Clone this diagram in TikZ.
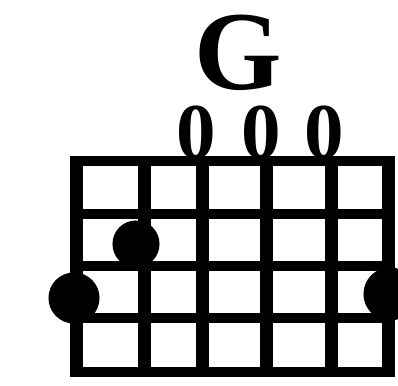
\documentclass[tikz,border=0pt]{standalone}
\usepackage{fontspec}
\setmainfont{Liberation Serif}
\usepackage{tikz}
\tikzset{
  chstring/.style={line width=0.26cm, draw=black, line cap=butt},
  chfret/.style={line width=0.20cm, draw=black, line cap=rect},
  chdot/.style={fill=black, draw=black, line width=0.6pt},
  chopen/.style={inner sep=0pt, anchor=base, font=\fontsize{45}{45}\selectfont\bfseries},
  chname/.style={inner sep=0pt, anchor=base, font=\fontsize{64}{64}\selectfont\bfseries},
}

\begin{document}
\begin{tikzpicture}
\useasboundingbox (0,0) rectangle (7.960,7.700);
\clip (0,0) rectangle (7.960,7.700);
\node[chname] (name) at (4.760,5.900) {G};
\draw[chfret] (1.540,4.480) -- (7.760,4.480);
\draw[chfret] (1.540,3.420) -- (7.760,3.420);
\draw[chfret] (1.540,2.380) -- (7.760,2.380);
\draw[chfret] (1.540,1.340) -- (7.760,1.340);
\draw[chfret] (1.540,0.260) -- (7.760,0.260);
\draw[chstring] (1.540,4.580) -- (1.540,0.160);
\draw[chstring] (2.880,4.580) -- (2.880,0.160);
\draw[chstring] (4.040,4.580) -- (4.040,0.160);
\draw[chstring] (5.320,4.580) -- (5.320,0.160);
\draw[chstring] (6.620,4.580) -- (6.620,0.160);
\draw[chstring] (7.760,4.580) -- (7.760,0.160);
\node[chopen] (open3) at (3.920,4.540) {0};
\node[chopen] (open4) at (5.220,4.540) {0};
\node[chopen] (open5) at (6.480,4.540) {0};
\draw[chdot] (2.720,2.820) circle (0.460);
\draw[chdot] (1.480,1.740) circle (0.500);
\draw[chdot] (7.800,1.820) circle (0.520);
\end{tikzpicture}
\end{document}
